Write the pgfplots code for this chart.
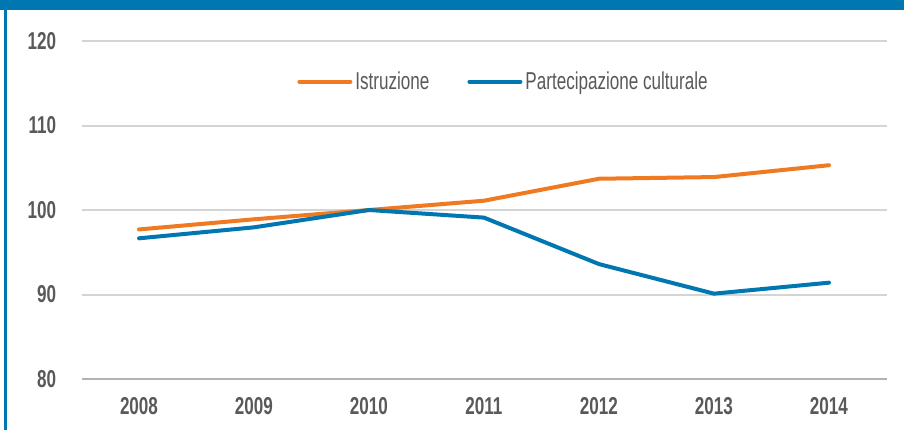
\documentclass[border=0pt]{standalone}
\usepackage{fontspec}
\setmainfont{Liberation Sans}[FakeStretch=0.70]
\usepackage{pgfplots}
\pgfplotsset{compat=1.18}
\definecolor{istr}{HTML}{F07A22}
\definecolor{cult}{HTML}{0077B0}
\definecolor{txt}{HTML}{595959}
\definecolor{grd}{HTML}{D4D4D4}
\begin{document}
% 1px of the reference = 0.5pt
\begin{tikzpicture}
\useasboundingbox (0pt,0pt) rectangle (452pt,215pt);
\fill[cult] (0pt,210pt) rectangle (452pt,215pt);
\fill[cult] (2pt,0pt) rectangle (3.25pt,215pt);
\begin{axis}[
  at={(40.75pt,25.5pt)}, anchor=south west,
  scale only axis,
  width=402.5pt, height=169pt,
  xmin=2007.5, xmax=2014.5,
  ymin=80, ymax=120,
  xtick={2008,...,2014},
  ytick={80,90,...,120},
  axis line style={draw=none},
  major tick length=0pt,
  ymajorgrids,
  grid style={grd, line width=1pt},
  font=\fontsize{12.2}{14}\selectfont\color{txt},
  tick label style={font=\fontsize{12.2}{14}\selectfont\bfseries\color{txt}},
  /pgf/number format/assume math mode=true,
  /pgf/number format/1000 sep={},
  yticklabel style={anchor=east, inner sep=0pt, xshift=-12.5pt},
  xticklabel style={anchor=north, inner sep=0pt, yshift=-9pt},
  clip=false,
  legend columns=2,
  legend style={at={(rel axis cs:0.2677,0.8796)}, anchor=west, draw=none, fill=none,
    inner sep=0pt, nodes={inner sep=1.5pt, anchor=west},
    /tikz/every even column/.append style={column sep=17.5pt}},
  legend image code/.code={\draw[#1] (0pt,0pt) -- (25.5pt,0pt);},
]
\addplot[istr, line width=2pt, line cap=round, line join=round] coordinates {
(2008,97.7) (2009,98.9) (2010,100.0) (2011,101.1) (2012,103.7) (2013,103.9) (2014,105.3)};
\addlegendentry{Istruzione}
\addplot[cult, line width=2pt, line cap=round, line join=round] coordinates {
(2008,96.65) (2009,97.95) (2010,100.0) (2011,99.1) (2012,93.6) (2013,90.1) (2014,91.4)};
\addlegendentry{Partecipazione culturale}
\draw[gray!60, line width=1pt] (axis cs:2007.5,80) -- (axis cs:2014.5,80);
\end{axis}
\end{tikzpicture}
\end{document}
